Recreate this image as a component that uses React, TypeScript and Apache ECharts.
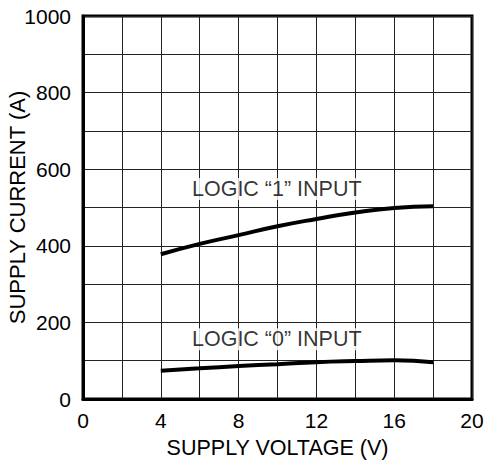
import React, { useEffect, useRef } from "react";
import * as echarts from "echarts";

const voltage = [4, 6, 8, 10, 12, 14, 16, 18];
const logic1 = [378, 405, 428, 451, 470, 487, 499, 503];
const logic0 = [74, 80, 86, 91, 96, 99, 101, 96];
const labels = [
  { text: "LOGIC \u201C1\u201D INPUT", x: 5.5, y: 548 },
  { text: "LOGIC \u201C0\u201D INPUT", x: 5.5, y: 156 },
];

const FONT = "Liberation Sans, Arial, sans-serif";

export default function App() {
  const ref = useRef<HTMLDivElement>(null);
  useEffect(() => {
    const chart = echarts.init(ref.current!, null, { renderer: "svg" });
    const lineSeries = (vals: number[]) => ({
      type: "line",
      data: voltage.map((v, i) => [v, vals[i]]),
      smooth: true,
      symbol: "none",
      lineStyle: { color: "#000", width: 4 },
      z: 5,
    });
    chart.setOption({
      animation: false,
      grid: {
        left: 83,
        right: 13,
        top: 16,
        bottom: 65,
        containLabel: false,
        outerBoundsMode: "none",
        show: true,
        borderColor: "#000",
        borderWidth: 3,
        backgroundColor: "transparent",
      },
      xAxis: {
        type: "value",
        min: 0,
        max: 20,
        interval: 2,
        name: "SUPPLY VOLTAGE (V)",
        nameLocation: "middle",
        nameGap: 38,
        nameMoveOverlap: false,
        nameTextStyle: { fontFamily: FONT, fontSize: 21.5, color: "#000" },
        axisLine: { show: true, lineStyle: { color: "#000", width: 3 } },
        axisTick: { show: false },
        axisLabel: {
          fontFamily: FONT,
          fontSize: 21,
          color: "#000",
          margin: 11,
          formatter: (v: number) => (v % 4 === 0 ? String(v) : ""),
        },
        splitLine: { show: true, lineStyle: { color: "#222", width: 1 } },
      },
      yAxis: {
        type: "value",
        min: 0,
        max: 1000,
        interval: 100,
        name: "SUPPLY CURRENT (A)",
        nameLocation: "middle",
        nameGap: 55,
        nameMoveOverlap: false,
        nameTextStyle: { fontFamily: FONT, fontSize: 22, color: "#000" },
        axisLine: { show: true, lineStyle: { color: "#000", width: 3 } },
        axisTick: { show: false },
        axisLabel: {
          fontFamily: FONT,
          fontSize: 21,
          color: "#000",
          margin: 12,
          formatter: (v: number) => (v % 200 === 0 ? String(v) : ""),
        },
        splitLine: { show: true, lineStyle: { color: "#222", width: 1 } },
      },
      series: [
        lineSeries(logic1),
        lineSeries(logic0),
        {
          type: "scatter",
          symbolSize: 0,
          data: labels.map((l) => ({ value: [l.x, l.y], name: l.text })),
          label: {
            show: true,
            position: "right",
            distance: 0,
            formatter: (p: any) => p.name,
            fontFamily: FONT,
            fontSize: 21.5,
            color: "#000",
            backgroundColor: "#fff",
            padding: [0, 2],
          },
          z: 6,
          silent: true,
        },
      ],
    });
    return () => chart.dispose();
  }, []);
  return (
    <div
      ref={ref}
      style={{ position: "absolute", left: 0, top: 0, width: 485, height: 464 }}
    />
  );
}
